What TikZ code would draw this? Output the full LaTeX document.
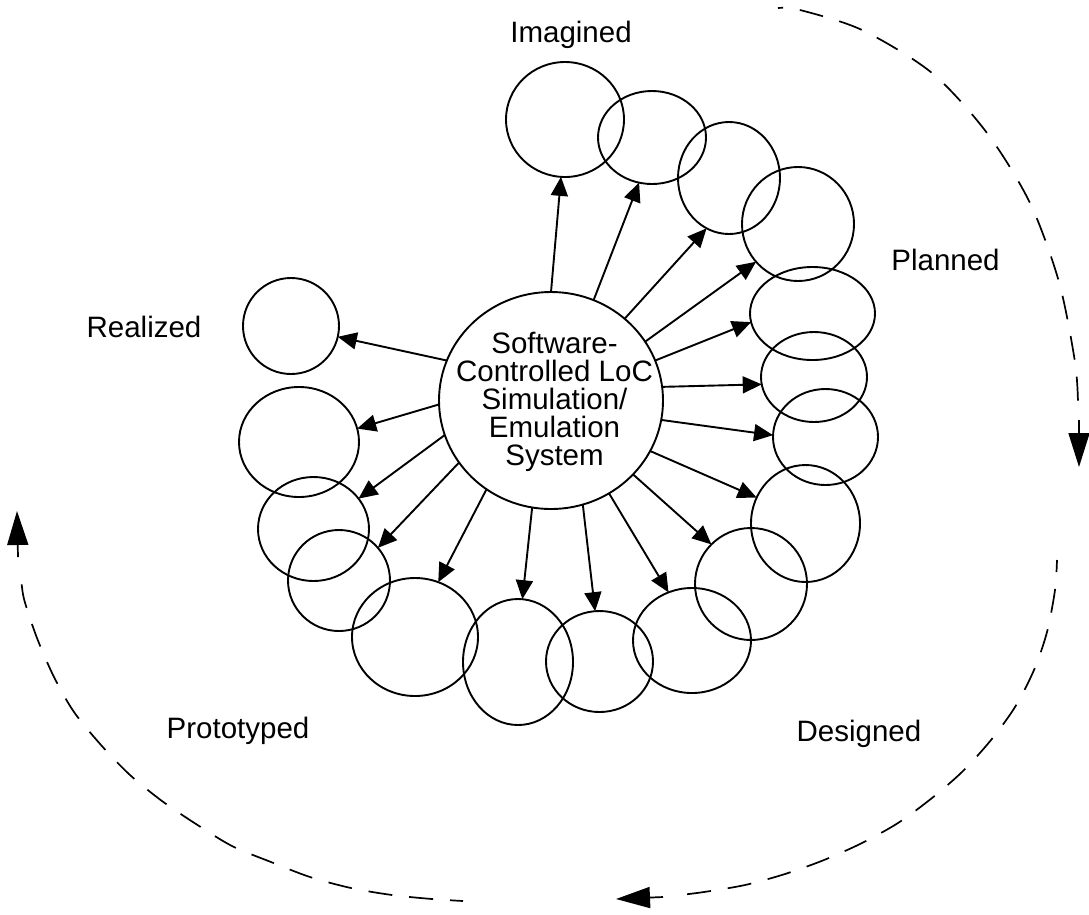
\documentclass[tikz,border=0pt]{standalone}
\usepackage{fontspec}
\setmainfont{Liberation Sans}
\usetikzlibrary{shapes.geometric,arrows.meta}
\tikzset{
  bub/.style={draw=black,line width=1.9pt,ellipse,inner sep=0pt,outer sep=0pt},
  lab/.style={font=\fontsize{29.5}{28}\selectfont,inner sep=0pt,outer sep=0pt,text=black},
  spoke/.style={line width=1.9pt,draw=black,-{Triangle[length=19pt,width=17pt]}},
  dashcurve/.style={line width=1.7pt,draw=black,dash pattern=on 24pt off 17pt},
  bigtip/.style={line width=1.7pt,draw=black,-{Triangle[length=34pt,width=21pt]}}
}
\begin{document}
\begin{tikzpicture}[x=1pt,y=-1pt]
\useasboundingbox (0,0) rectangle (1089,914);
% hub
\node[bub,minimum width=224pt,minimum height=217pt] (hub) at (551,400.5) {};
\node[lab,align=center,anchor=center] (hubtext) at (554.5,401.5) {Software-\\Controlled LoC\\Simulation/\\Emulation\\System};
% satellites
\foreach \i/\cx/\cy/\rx/\ry in {
 1/565/119.5/59/57.5, 2/652/137.5/54/46.5, 3/729/178/51/56, 4/798/224/56/57,
 5/812.5/313.5/62.5/46.5, 6/814/377/53/45, 7/825.5/437/52.5/48, 8/805.5/523.5/54.5/58.5,
 9/751/584/56/56, 10/692/640.5/59/52.5, 11/599.5/661.5/53.5/50.5, 12/518/662/55/63,
 13/415/637/63/59, 14/339/580.5/51/50.5, 15/313.5/529/55.5/52, 16/299/442/60/55, 17/291/326/48/48}
{ \node[bub,minimum width=2*\rx pt,minimum height=2*\ry pt] (n\i) at (\cx,\cy) {}; }
% spokes
\foreach \i/\a/\b in {
 1/90/-94, 2/67.9/-106.8, 3/48.5/-114.3, 4/32.5/-138.6, 5/21.4/-172.3, 6/7.8/-172.3,
 7/-10.5/178.9, 8/-27.9/152.3, 9/-42.6/135.7, 10/-58.6/116.8, 11/-73.6/95.3, 12/-100/86.4,
 13/-126.8/67.3, 14/-146.5/40.7, 15/-162/34.9, 16/-178.7/13.3, 17/159.6/-13.2}
{ \draw[spoke] (hub.\a) -- (n\i.\b); }
% labels
\node[lab,anchor=base] (imagined) at (571,42) {Imagined};
\node[lab,anchor=base] (planned) at (945.5,270) {Planned};
\node[lab,anchor=base] (realized) at (144,337) {Realized};
\node[lab,anchor=base] (prototyped) at (238,738) {Prototyped};
\node[lab,anchor=base] (designed) at (859,741) {Designed};
% process curves
\draw[dashcurve,dash phase=19pt] plot[smooth] coordinates {(778,8) (800,10) (862,30) (932,73) (987,133) (1030,203) (1059,282) (1075,362) (1078,403)};
\coordinate (a1) at (1079,420); \coordinate (a2) at (1079,467);
\draw[bigtip] (a1) -- (a2);
\draw[dashcurve,dash phase=12pt] plot[smooth] coordinates {(1057,560) (1055,590) (1047,632) (1034,670) (1015,707) (991,740) (963,771) (932,798) (898,823) (862,843) (824,860) (785,874) (745,885) (704,892) (680,895)};
\coordinate (b1) at (663,897); \coordinate (b2) at (616,899);
\draw[bigtip] (b1) -- (b2);
\draw[dashcurve,dash phase=11pt] plot[smooth] coordinates {(463,901) (432,899) (392,895) (351,888) (310,877) (271,862) (232,846) (196,824) (162,801) (130,775) (101,745) (74,712) (54,677) (37,638) (24,599) (21,576)};
\coordinate (d1) at (18,557); \coordinate (d2) at (17,511);
\draw[bigtip] (d1) -- (d2);
\end{tikzpicture}
\end{document}
